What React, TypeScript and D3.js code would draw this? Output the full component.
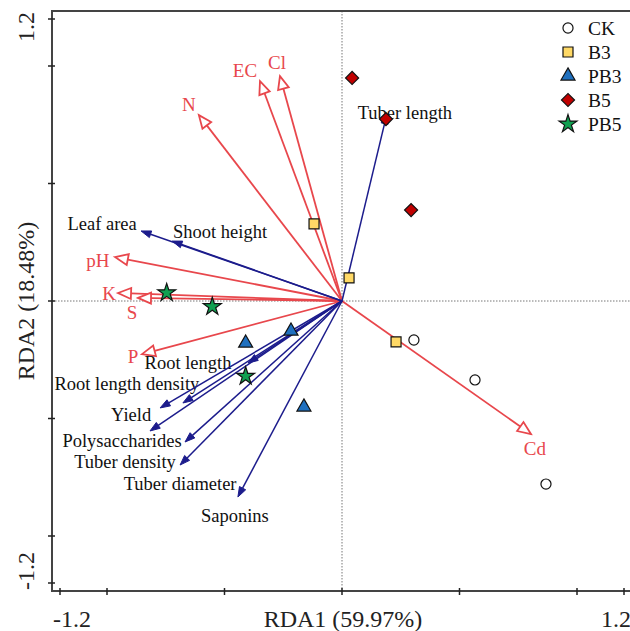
import React from 'react';
import { scaleLinear, symbol, symbolCircle, symbolSquare, symbolTriangle, symbolStar } from 'd3';

// treatments (sample scores)
const groups = ['CK', 'B3', 'PB3', 'B5', 'PB5'];
const ckX = [0.306, 0.566, 0.868];
const ckY = [-0.166, -0.336, -0.779];
const b3X = [-0.119, 0.030, 0.230];
const b3Y = [0.328, 0.098, -0.174];
const pb3X = [-0.41, -0.217, -0.162];
const pb3Y = [-0.179, -0.128, -0.451];
const b5X = [0.043, 0.187, 0.294];
const b5Y = [0.949, 0.774, 0.387];
const pb5X = [-0.746, -0.552, -0.41];
const pb5Y = [0.035, -0.024, -0.32];

// soil factors (red)
const envNames = ['N', 'EC', 'Cl', 'pH', 'K', 'S', 'P', 'Cd'];
const envX = [-0.609, -0.349, -0.264, -0.966, -0.953, -0.868, -0.851, 0.804];
const envY = [0.791, 0.936, 0.957, 0.187, 0.034, 0.013, -0.226, -0.566];

// plant traits (blue)
const traitNames = ['Tuber length', 'Leaf area', 'Shoot height', 'Root length', 'Root length density',
  'Yield', 'Polysaccharides', 'Tuber density', 'Tuber diameter', 'Saponins'];
const traitX = [0.191, -0.855, -0.723, -0.40, -0.677, -0.774, -0.817, -0.668, -0.689, -0.443];
const traitY = [0.796, 0.298, 0.255, -0.264, -0.434, -0.455, -0.553, -0.60, -0.698, -0.834];

const ticks = [-1.2, -1.0, -0.5, 0, 0.5, 1.0, 1.2];

// label offsets from arrow tip (px)
const envLabelOff = [[-10, -4], [-15, -4], [-3, -7], [-17, 10], [-9, 7], [-6, 21], [-9, 9], [4, 21]];
const traitLabelOff = [[18, 5], [-39, -1], [48, -3], [-60, 6], [-56, -13], [-29, 13], [-28, 16], [-60, 26], [0, 25], [-3, 25]];

const W = 630, H = 631;
const L = 52, T = 11, B = 591;
const RED = '#e8474c';
const BLUE = '#1c1c8c';
const FONT = '"Liberation Serif", "Times New Roman", serif';

const x = scaleLinear().domain([-1.2, 1.2]).range([60, 624]);
const y = scaleLinear().domain([-1.2, 1.2]).range([583, 19]);

function arrow(tx: number, ty: number, len: number, hw: number) {
  const x0 = x(0), y0 = y(0);
  const ang = Math.atan2(ty - y0, tx - x0);
  const c = Math.cos(ang), s = Math.sin(ang);
  const bx = tx - len * c, by = ty - len * s;
  const head = `M${tx},${ty}L${bx - hw * s},${by + hw * c}L${bx + hw * s},${by - hw * c}Z`;
  return { x0, y0, bx, by, head };
}

const sym = (type: any, size: number) => symbol().type(type).size(size)() as string;

const markers: Record<string, { d: string; fill: string; rot?: number }> = {
  CK: { d: sym(symbolCircle, 80), fill: 'white' },
  B3: { d: sym(symbolSquare, 100), fill: '#ffd966' },
  PB3: { d: sym(symbolTriangle, 85), fill: '#1f70bf' },
  B5: { d: sym(symbolSquare, 85), fill: '#c00000', rot: 45 },
  PB5: { d: sym(symbolStar, 100), fill: '#10a050' },
};

const groupData: Record<string, [number[], number[]]> = {
  CK: [ckX, ckY], B3: [b3X, b3Y], PB3: [pb3X, pb3Y], B5: [b5X, b5Y], PB5: [pb5X, pb5Y],
};

export default function App() {
  return (
    <svg width={W} height={H} style={{ position: 'fixed', left: 0, top: 0, background: 'white' }} fontFamily={FONT}>
      {/* zero lines */}
      <line x1={x(0)} x2={x(0)} y1={T} y2={B} stroke="#777" strokeDasharray="1.5,1.5" />
      <line x1={L} x2={W} y1={y(0)} y2={y(0)} stroke="#777" strokeDasharray="1.5,1.5" />

      {/* frame */}
      <path d={`M${W},${T}H${L}V${B}H${W}`} fill="none" stroke="#444" strokeWidth={2} />
      {ticks.map(t => (
        <g key={'t' + t}>
          <line x1={x(t)} x2={x(t)} y1={B - 3} y2={B + 4} stroke="#222" strokeWidth={1.5} />
          <line x1={L - 4} x2={L + 3} y1={y(t)} y2={y(t)} stroke="#222" strokeWidth={1.5} />
        </g>
      ))}
      <text x={72} y={627} fontSize={24} textAnchor="middle" fill="#222">-1.2</text>
      <text x={616} y={627} fontSize={24} textAnchor="middle" fill="#222">1.2</text>
      <text x={343} y={627} fontSize={24} textAnchor="middle" fill="#222">RDA1 (59.97%)</text>
      <text transform="translate(34,27) rotate(-90)" fontSize={24} textAnchor="middle" fill="#222">1.2</text>
      <text transform="translate(34,571) rotate(-90)" fontSize={24} textAnchor="middle" fill="#222">-1.2</text>
      <text transform="translate(34,301) rotate(-90)" fontSize={24} textAnchor="middle" fill="#222">RDA2 (18.48%)</text>

      {/* red arrows */}
      {envNames.map((n, i) => {
        const tx = x(envX[i]), ty = y(envY[i]);
        const a = arrow(tx, ty, 13, 5.5);
        return (
          <g key={n}>
            <line x1={a.x0} y1={a.y0} x2={a.bx} y2={a.by} stroke={RED} strokeWidth={1.8} />
            <path d={a.head} fill="white" stroke={RED} strokeWidth={1.8} strokeLinejoin="miter" />
            <text x={tx + envLabelOff[i][0]} y={ty + envLabelOff[i][1]} fontSize={19} textAnchor="middle" fill={RED}>{n}</text>
          </g>
        );
      })}

      {/* blue arrows */}
      {traitNames.map((n, i) => {
        const tx = x(traitX[i]), ty = y(traitY[i]);
        const a = arrow(tx, ty, 10, 3.5);
        return (
          <g key={n}>
            <line x1={a.x0} y1={a.y0} x2={a.bx} y2={a.by} stroke={BLUE} strokeWidth={1.5} />
            <path d={a.head} fill={BLUE} stroke={BLUE} strokeWidth={1} />
            <text x={tx + traitLabelOff[i][0]} y={ty + traitLabelOff[i][1]} fontSize={18.5} textAnchor="middle" fill="#111">{n}</text>
          </g>
        );
      })}

      {/* sample points */}
      {groups.map(g => {
        const m = markers[g];
        const [gx, gy] = groupData[g];
        return gx.map((v, i) => (
          <path key={g + i} d={m.d} fill={m.fill} stroke="#111" strokeWidth={1.2}
            transform={`translate(${x(v)},${y(gy[i])})${m.rot ? ` rotate(${m.rot})` : ''}`} />
        ));
      })}

      {/* legend */}
      {groups.map((g, i) => {
        const m = markers[g];
        const ly = 28 + i * 24;
        return (
          <g key={'lg' + g}>
            <path d={m.d} fill={m.fill} stroke="#111" strokeWidth={1.2}
              transform={`translate(568,${ly})${m.rot ? ` rotate(${m.rot})` : ''}`} />
            <text x={588} y={ly + 7} fontSize={19.5} fill="#111">{g}</text>
          </g>
        );
      })}
    </svg>
  );
}
